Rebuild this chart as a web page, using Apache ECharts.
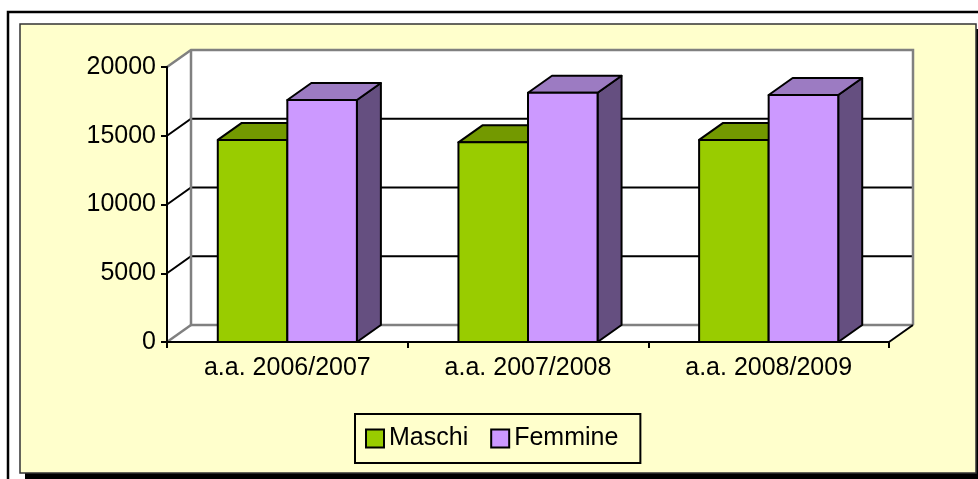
<!DOCTYPE html>
<html>
<head>
<meta charset="utf-8">
<script src="https://cdn.jsdelivr.net/npm/echarts/dist/echarts.min.js"></script>
<style>
  html, body { margin: 0; padding: 0; background: #fff; }
  #myChart { width: 978px; height: 479px; }
</style>
</head>
<body>
<div id="myChart"></div>
<script>
// dati
var categorie = ['a.a. 2006/2007', 'a.a. 2007/2008', 'a.a. 2008/2009'];
var maschi = [14700, 14520, 14700];
var femmine = [17600, 18130, 17960];
var yTicks = [0, 5000, 10000, 15000, 20000];

// profondita' 3D (pixel)
var DX = 24, DY = -17;
var FONT = 'Liberation Sans, Arial, sans-serif';

function toData(arr) {
  var out = [];
  for (var i = 0; i < arr.length; i++) out.push([i, arr[i]]);
  return out;
}

// pareti, pavimento e griglia
function renderWalls(params, api) {
  var cs = params.coordSys;
  var x0 = cs.x, x1 = cs.x + cs.width;
  var yB = api.coord([0, yTicks[0]])[1];
  var yT = api.coord([0, yTicks[yTicks.length - 1]])[1];
  var kids = [];
  var white = { fill: '#fff', stroke: null };
  kids.push({ type: 'polygon', shape: { points: [[x0, yB], [x0, yT], [x0 + DX, yT + DY], [x0 + DX, yB + DY]] }, style: white });
  kids.push({ type: 'rect', shape: { x: x0 + DX, y: yT + DY, width: x1 - x0, height: yB - yT }, style: white });
  kids.push({ type: 'polygon', shape: { points: [[x0, yB], [x1, yB], [x1 + DX, yB + DY], [x0 + DX, yB + DY]] }, style: white });
  for (var i = 1; i < yTicks.length - 1; i++) {
    var y = api.coord([0, yTicks[i]])[1];
    kids.push({ type: 'polyline', shape: { points: [[x0, y], [x0 + DX, y + DY], [x1 + DX, y + DY]] },
      style: { stroke: '#000', lineWidth: 2, fill: null } });
  }
  var gray = { stroke: '#808080', lineWidth: 2.5, fill: null };
  kids.push({ type: 'polyline', shape: { points: [[x0, yT], [x0 + DX, yT + DY], [x1 + DX, yT + DY], [x1 + DX, yB + DY]] }, style: gray });
  kids.push({ type: 'polyline', shape: { points: [[x0 + DX, yT + DY], [x0 + DX, yB + DY], [x1 + DX, yB + DY]] }, style: gray });
  kids.push({ type: 'line', shape: { x1: x0, y1: yB, x2: x0 + DX, y2: yB + DY }, style: gray });
  kids.push({ type: 'line', shape: { x1: x1, y1: yB, x2: x1 + DX, y2: yB + DY }, style: { stroke: '#000', lineWidth: 2 } });
  return { type: 'group', children: kids };
}

// barra 3D: lato = -1 a sinistra del centro, +1 a destra
function makeBar(lato, front, top, side) {
  return function (params, api) {
    var idx = api.value(0);
    var p = api.coord([idx, api.value(1)]);
    var p0 = api.coord([idx, 0]);
    var bw = api.size([1, 0])[0] * 0.289;
    var xL = lato < 0 ? p[0] - bw : p[0];
    var xR = xL + bw;
    var yt = p[1], yb = p0[1];
    var st = { stroke: '#000', lineWidth: 2, lineJoin: 'round' };
    return {
      type: 'group',
      children: [
        { type: 'polygon', shape: { points: [[xR, yt], [xR + DX, yt + DY], [xR + DX, yb + DY], [xR, yb]] },
          style: Object.assign({ fill: side }, st) },
        { type: 'polygon', shape: { points: [[xL, yt], [xR, yt], [xR + DX, yt + DY], [xL + DX, yt + DY]] },
          style: Object.assign({ fill: top }, st) },
        { type: 'rect', shape: { x: xL, y: yt, width: bw, height: yb - yt },
          style: Object.assign({ fill: front }, st) }
      ]
    };
  };
}

var myChart = echarts.init(document.getElementById('myChart'));
myChart.setOption({
  backgroundColor: '#fff',
  animation: false,
  textStyle: { fontFamily: FONT },
  graphic: [
    { type: 'rect', z: -10, shape: { x: 8, y: 12, width: 1000, height: 500 },
      style: { fill: '#fff', stroke: '#000', lineWidth: 2.5 } },
    { type: 'rect', z: -10, shape: { x: 25, y: 29, width: 960, height: 460 },
      style: { fill: '#000' } },
    { type: 'rect', z: -10, shape: { x: 20, y: 24, width: 956, height: 449 },
      style: { fill: '#FFFFCC', stroke: '#333', lineWidth: 1.5 } }
  ],
  legend: {
    left: 355,
    top: 414,
    orient: 'horizontal',
    padding: [12, 22, 12, 10],
    itemGap: 22,
    itemWidth: 18,
    itemHeight: 18,
    backgroundColor: '#FFFFCC',
    borderColor: '#000',
    borderWidth: 2,
    borderRadius: 0,
    textStyle: { fontSize: 25, color: '#000', fontFamily: FONT },
    data: [
      { name: 'Maschi', icon: 'rect', itemStyle: { color: '#99CC00', borderColor: '#000', borderWidth: 2 } },
      { name: 'Femmine', icon: 'rect', itemStyle: { color: '#CC99FF', borderColor: '#000', borderWidth: 2 } }
    ]
  },
  grid: { left: 167, right: 89, top: 67, bottom: 137, containLabel: false },
  xAxis: {
    type: 'category',
    data: categorie,
    z: 5,
    axisLine: { lineStyle: { color: '#000', width: 2 } },
    axisTick: { show: true, length: 6, lineStyle: { color: '#000', width: 2 } },
    axisLabel: { fontSize: 25, color: '#000', margin: 14, fontFamily: FONT },
    splitLine: { show: false }
  },
  yAxis: {
    type: 'value',
    min: 0,
    max: 20000,
    interval: 5000,
    z: 5,
    axisLine: { show: true, lineStyle: { color: '#000', width: 2 } },
    axisTick: { show: true, length: 6, lineStyle: { color: '#000', width: 2 } },
    axisLabel: { fontSize: 25, color: '#000', margin: 11, fontFamily: FONT,
      formatter: function (value) { return String(value); } },
    splitLine: { show: false }
  },
  series: [
    { type: 'custom', name: 'pareti', z: 1, silent: true, renderItem: renderWalls,
      data: [[0, 0]], encode: { x: 0, y: 1 } },
    { type: 'custom', name: 'Maschi', z: 3, renderItem: makeBar(-1, '#99CC00', '#739900', '#5C7A00'),
      itemStyle: { color: '#99CC00' }, data: toData(maschi), encode: { x: 0, y: 1 } },
    { type: 'custom', name: 'Femmine', z: 4, renderItem: makeBar(1, '#CC99FF', '#9C7BC2', '#654F80'),
      itemStyle: { color: '#CC99FF' }, data: toData(femmine), encode: { x: 0, y: 1 } }
  ]
});
</script>
</body>
</html>
